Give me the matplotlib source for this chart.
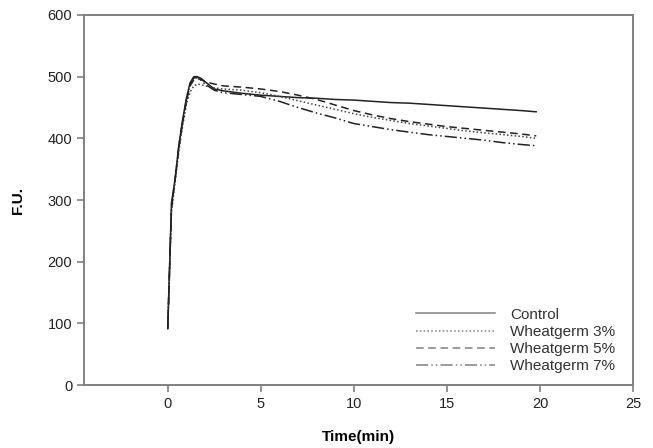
import matplotlib
matplotlib.use("Agg")
import matplotlib.pyplot as plt

# time (min)
time = [0, 0.2, 0.4, 0.6, 0.8, 1.0, 1.2, 1.4, 1.6, 1.8, 2.0, 2.5, 3, 4, 5,
        6, 7, 8, 9, 10, 11, 12, 13, 14, 15, 16, 17, 18, 19, 19.8]

control = [92, 295, 335, 390, 430, 465, 490, 500, 500, 497, 492, 480, 477,
           473, 470, 468, 466, 465, 463, 462, 460, 458, 457, 455, 453, 451,
           449, 447, 445, 443]
wg3 = [95, 280, 330, 380, 420, 455, 475, 485, 488, 487, 485, 482, 480, 478,
       474, 468, 461, 454, 447, 440, 434, 429, 424, 420, 416, 412, 409, 406,
       403, 400]
wg5 = [90, 285, 335, 385, 425, 460, 485, 495, 497, 495, 492, 488, 485, 483,
       480, 476, 470, 463, 454, 445, 438, 432, 427, 423, 419, 416, 413, 410,
       407, 404]
wg7 = [92, 290, 335, 388, 428, 462, 488, 498, 498, 494, 488, 478, 474, 471,
       468, 460, 450, 441, 433, 424, 419, 414, 410, 406, 403, 400, 397, 393,
       390, 388]

labels = ["Control", "Wheatgerm 3%", "Wheatgerm 5%", "Wheatgerm 7%"]

plt.rcParams["font.family"] = ["Liberation Sans", "DejaVu Sans"]

fig = plt.figure(figsize=(6.53, 4.48), dpi=100)
ax = fig.add_axes([84 / 653, 1 - 385 / 448, (633 - 84) / 653, (385 - 15) / 448])

ax.plot(time, control, color="#222222", lw=1.1, ls="-", label=labels[0])
ax.plot(time, wg3, color="#444444", lw=1.1, ls=(0, (1, 1.5)), label=labels[1])
ax.plot(time, wg5, color="#222222", lw=1.1, ls=(0, (5, 3)), label=labels[2])
ax.plot(time, wg7, color="#222222", lw=1.1, ls=(0, (8, 2, 1, 2, 1, 2)),
        label=labels[3])

ax.set_xlim(-4.5, 25)
ax.set_ylim(0, 600)
ax.set_xticks([0, 5, 10, 15, 20, 25])
ax.set_yticks(range(0, 601, 100))

for sp in ax.spines.values():
    sp.set_color("#808080")
    sp.set_linewidth(1.4)
ax.tick_params(direction="out", length=5, width=1.2, color="#808080",
               labelsize=10.5, labelcolor="#222222")

ax.set_xlabel("Time(min)", fontsize=11, fontweight="bold", labelpad=14)
ax.set_ylabel("F.U.", fontsize=11, fontweight="bold", labelpad=16)

leg = ax.legend(loc="center left", bbox_to_anchor=(408 / 653, 1 - 340.5 / 448),
                bbox_transform=fig.transFigure, frameon=False, fontsize=11,
                handlelength=5.2, handletextpad=1.0, labelspacing=0.21,
                borderpad=0)
for ln in leg.get_lines():
    ln.set_color("#808080")
for t in leg.get_texts():
    t.set_color("#333333")

fig.savefig("out.png", dpi=100)
